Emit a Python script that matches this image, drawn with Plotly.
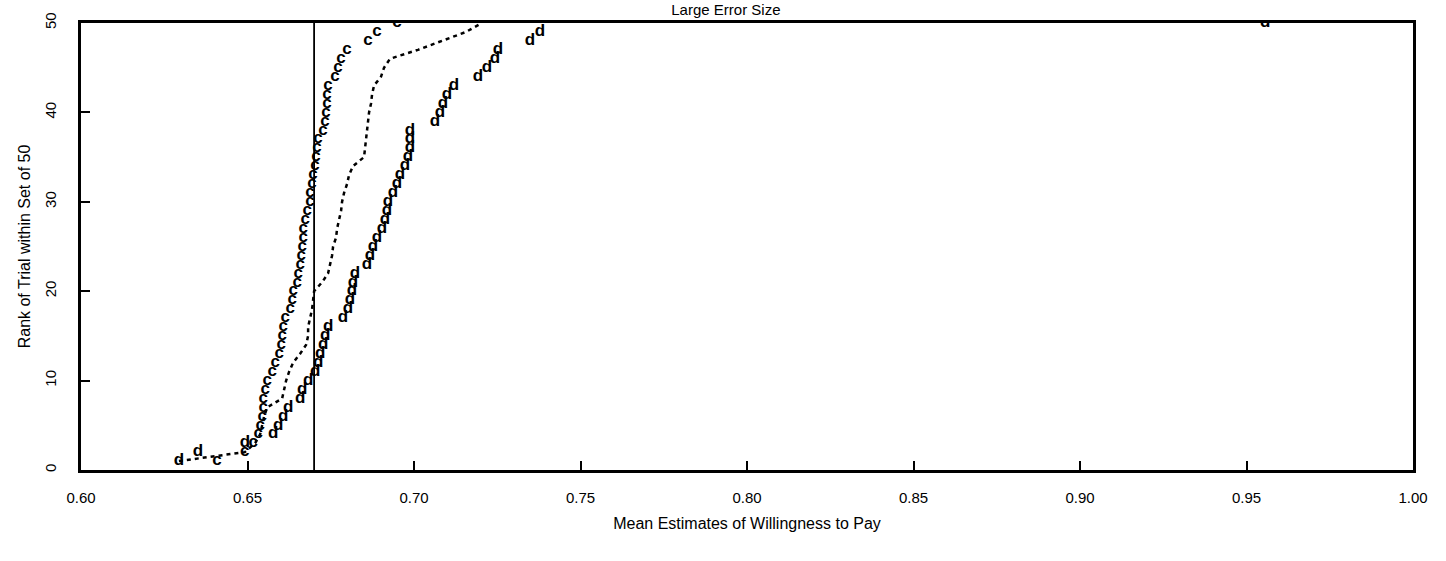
import plotly.graph_objects as go

# Rank of trial within set of 50
ranks = list(range(1, 51))

# Series "c": sorted mean WTP estimates
c_values = [0.6408, 0.6492, 0.6517, 0.6532, 0.6538, 0.6544, 0.6547, 0.6547, 0.6553, 0.6559,
            0.6574, 0.6583, 0.6595, 0.6601, 0.6604, 0.6607, 0.6613, 0.6628, 0.6634, 0.6637,
            0.6649, 0.6652, 0.6658, 0.6661, 0.6664, 0.6667, 0.6667, 0.6673, 0.6679, 0.6688,
            0.6688, 0.6694, 0.6697, 0.6703, 0.6706, 0.6709, 0.6712, 0.6727, 0.6733, 0.6736,
            0.6739, 0.6739, 0.6742, 0.6763, 0.6772, 0.6781, 0.6799, 0.6862, 0.6889, 0.6949]

# Series "d": sorted mean WTP estimates
d_values = [0.6294, 0.6351, 0.6492, 0.6577, 0.6592, 0.6607, 0.6622, 0.6658, 0.6664, 0.6682,
            0.6703, 0.6712, 0.6718, 0.6727, 0.6733, 0.6742, 0.6787, 0.6802, 0.6808, 0.6814,
            0.6817, 0.6823, 0.6859, 0.6868, 0.6877, 0.6889, 0.6904, 0.6913, 0.6919, 0.6922,
            0.6937, 0.6949, 0.6958, 0.6973, 0.6982, 0.6988, 0.6988, 0.6988, 0.7063, 0.7078,
            0.7087, 0.7099, 0.7120, 0.7192, 0.7219, 0.7243, 0.7252, 0.7348, 0.7378, 0.9556]

# Dashed series: sorted mean WTP estimates
dash_values = [0.6294, 0.6492, 0.6523, 0.6538, 0.6544, 0.6550, 0.6559, 0.6604, 0.6610, 0.6616,
               0.6625, 0.6637, 0.6658, 0.6676, 0.6682, 0.6682, 0.6688, 0.6694, 0.6697, 0.6700,
               0.6724, 0.6742, 0.6748, 0.6754, 0.6757, 0.6766, 0.6769, 0.6775, 0.6781, 0.6784,
               0.6790, 0.6799, 0.6805, 0.6817, 0.6850, 0.6853, 0.6856, 0.6859, 0.6862, 0.6865,
               0.6871, 0.6874, 0.6880, 0.6901, 0.6910, 0.6928, 0.7012, 0.7087, 0.7156, 0.7204]

# Reference (true) value line
true_value = 0.67
true_line_y = [0, 50]

x_ticks = [0.60, 0.65, 0.70, 0.75, 0.80, 0.85, 0.90, 0.95, 1.00]
x_tick_labels = ["0.60", "0.65", "0.70", "0.75", "0.80", "0.85", "0.90", "0.95", "1.00"]
y_ticks = [0, 10, 20, 30, 40, 50]

FONT = "Liberation Sans, Arial, sans-serif"

fig = go.Figure()

fig.add_trace(go.Scatter(
    x=dash_values, y=ranks, mode="lines",
    line=dict(color="black", width=2.5, dash="4px,4px"),
    showlegend=False, hoverinfo="skip"))

fig.add_trace(go.Scatter(
    x=[true_value, true_value], y=true_line_y, mode="lines",
    line=dict(color="black", width=1.8),
    showlegend=False, hoverinfo="skip"))

fig.add_trace(go.Scatter(
    x=c_values, y=ranks, mode="text", text=["c"] * len(c_values),
    textposition="middle center",
    textfont=dict(family=FONT, size=17, color="black", weight="bold"),
    showlegend=False))

fig.add_trace(go.Scatter(
    x=d_values, y=ranks, mode="text", text=["d"] * len(d_values),
    textposition="middle center",
    textfont=dict(family=FONT, size=17, color="black", weight="bold"),
    showlegend=False))

fig.update_layout(
    width=1446, height=561,
    margin=dict(l=81, r=33, t=18, b=91),
    paper_bgcolor="white", plot_bgcolor="white",
    font=dict(family=FONT, size=15, color="black"),
    title=dict(text="Large Error Size", x=0.502, xanchor="center",
               y=0.983, yanchor="middle", font=dict(size=15)),
    showlegend=False,
)

fig.update_xaxes(
    range=[0.6, 1.0], tickmode="array", tickvals=x_ticks, ticktext=x_tick_labels,
    ticks="inside", ticklen=9, tickwidth=1.5, tickcolor="black",
    showline=True, linecolor="black", linewidth=2.5, mirror=True,
    showgrid=False, zeroline=False,
    tickfont=dict(size=15), ticklabelstandoff=12,
    title=dict(text="Mean Estimates of Willingness to Pay", font=dict(size=16), standoff=14),
)

fig.update_yaxes(
    range=[0, 50], tickmode="array", tickvals=y_ticks,
    ticks="inside", ticklen=9, tickwidth=1.5, tickcolor="black",
    showline=True, linecolor="black", linewidth=2.5, mirror=True,
    showgrid=False, zeroline=False, tickangle=-90,
    tickfont=dict(size=15), ticklabelstandoff=16,
    title=dict(text="Rank of Trial within Set of 50", font=dict(size=16), standoff=8),
)

fig.write_html("out.html")
